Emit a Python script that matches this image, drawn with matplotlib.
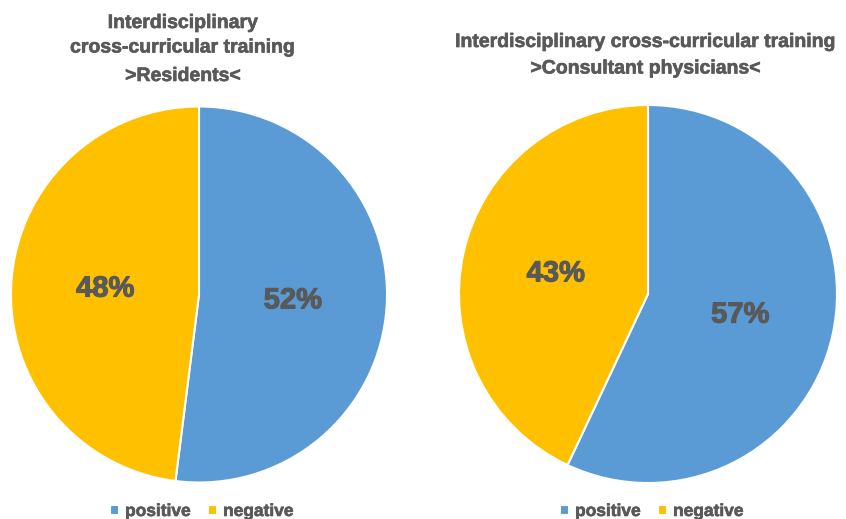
import matplotlib
matplotlib.use("Agg")
import matplotlib.pyplot as plt
import matplotlib.patheffects as pe

# Survey answers about interdisciplinary cross-curricular training
categories = ["positive", "negative"]
residents = [52, 48]
consultants = [57, 43]
titles_left = ["Interdisciplinary", "cross-curricular training", ">Residents<"]
titles_right = ["Interdisciplinary cross-curricular training", ">Consultant physicians<"]

colors = ["#5B9BD5", "#FFC000"]
gray = "#595959"
W, H = 846, 519

plt.rcParams["font.family"] = ["Liberation Sans", "DejaVu Sans"]
fig = plt.figure(figsize=(W / 100, H / 100), dpi=100)

# slightly heavier strokes for the bold text
heavy = [pe.withStroke(linewidth=0.45, foreground=gray)]
heavier = [pe.withStroke(linewidth=0.8, foreground=gray)]


def pie_axes(cx, cy, r):
    # cx, cy, r in pixels measured from the top-left corner
    return fig.add_axes([(cx - r) / W, (H - cy - r) / H, 2 * r / W, 2 * r / H])


def draw(ax, values, legend_x):
    wedges, _, autotexts = ax.pie(
        values, colors=colors, startangle=90, counterclock=False,
        autopct="%.0f%%", pctdistance=0.5, radius=1,
        wedgeprops=dict(edgecolor="white", linewidth=1.5),
        textprops=dict(color=gray, fontsize=21, fontweight="bold"))
    for t in autotexts:
        t.set_path_effects(heavier)
    ax.set_xlim(-1, 1)
    ax.set_ylim(-1, 1)
    ax.set_aspect("equal")
    ax.axis("off")
    leg = fig.legend(wedges, categories, loc="center", ncol=2, frameon=False,
                     bbox_to_anchor=(legend_x / W, (H - 511.5) / H),
                     prop=dict(size=12.5, weight="bold"), labelcolor=gray,
                     handlelength=0.5, handleheight=0.5, handletextpad=0.35,
                     columnspacing=1.0)
    for t in leg.get_texts():
        t.set_path_effects(heavy)


ax1 = pie_axes(199, 294.5, 188)
draw(ax1, residents, 202)
ax2 = pie_axes(648, 294, 189)
draw(ax2, consultants, 652)

for txt, y in zip(titles_left, [28, 52.5, 81]):
    fig.text(183 / W, (H - y) / H, txt, ha="center", va="baseline",
             fontsize=14, fontweight="bold", color=gray, path_effects=heavy)
for txt, y in zip(titles_right, [47, 73.5]):
    fig.text(646 / W, (H - y) / H, txt, ha="center", va="baseline",
             fontsize=14, fontweight="bold", color=gray, path_effects=heavy)

fig.savefig("out.png", dpi=100)
